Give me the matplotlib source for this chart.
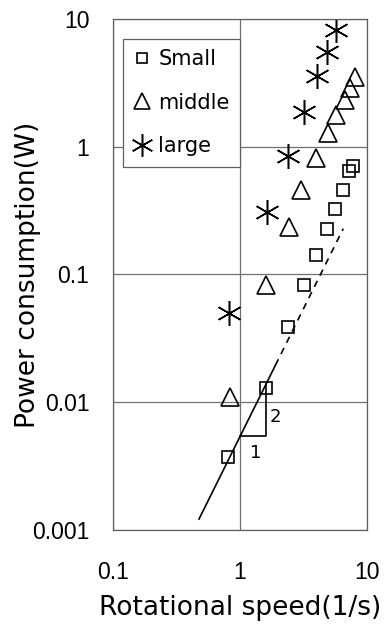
import numpy as np
import matplotlib
matplotlib.use('Agg')
from matplotlib import pyplot as plt

plt.rcParams['font.family'] = ['DejaVu Sans']

small_x = [0.80, 1.60, 2.39, 3.19, 3.97, 4.84, 5.60, 6.47, 7.21, 7.76]
small_y = [0.0037, 0.013, 0.039, 0.083, 0.143, 0.228, 0.327, 0.46, 0.64, 0.71]

middle_x = [0.83, 1.60, 2.43, 3.02, 3.97, 4.93, 5.70, 6.71, 7.35, 8.05]
middle_y = [0.0109, 0.082, 0.237, 0.46, 0.82, 1.29, 1.78, 2.33, 2.90, 3.53]

large_x = [0.82, 1.63, 2.39, 3.19, 4.04, 4.84, 5.70]
large_y = [0.050, 0.31, 0.85, 1.85, 3.59, 5.54, 8.24]

# P ~ N^2 guide
coef = 0.0054
solid_x = [0.475, 1.9]
dash_x = [1.9, 6.5]
tri_x = [1.0, 1.6]

fig = plt.figure(figsize=(3.9, 6.28), dpi=100)
ax = fig.add_axes([0.290, 0.156, 0.651, 0.814])

ax.plot(solid_x, [coef * v**2 for v in solid_x], 'k-', lw=1.2)
ax.plot(dash_x, [coef * v**2 for v in dash_x], 'k-', lw=1.2, dashes=(4, 3.5))
ax.plot([tri_x[0], tri_x[1], tri_x[1]],
        [coef * tri_x[0]**2, coef * tri_x[0]**2, coef * tri_x[1]**2], 'k-', lw=1.2)
ax.text(1.34, 0.0040, '1', fontsize=13, ha='center', va='center')
ax.text(1.89, 0.0077, '2', fontsize=13, ha='center', va='center')

ax.plot(small_x, small_y, 's', ms=8.5, mfc='none', mec='k', mew=1.2, ls='none', label='Small')
ax.plot(middle_x, middle_y, '^', ms=12.5, mfc='none', mec='k', mew=1.2, ls='none', label='middle')
ax.plot(large_x, large_y, marker=(6, 2, 0), ms=18, mec='k', mew=1.1, ls='none', label='large')

ax.set_xscale('log')
ax.set_yscale('log')
ax.set_xlim(0.1, 10)
ax.set_ylim(0.001, 10)
ax.set_xticks([0.1, 1, 10])
ax.set_xticklabels(['0.1', '1', '10'])
ax.set_yticks([0.001, 0.01, 0.1, 1, 10])
ax.set_yticklabels(['0.001', '0.01', '0.1', '1', '10'])
ax.minorticks_off()
ax.tick_params(length=0, labelsize=16.5)
ax.tick_params(axis='x', pad=22)
ax.tick_params(axis='y', pad=17)
for lab in ax.get_xticklabels() + ax.get_yticklabels():
    lab.set_family(['Liberation Sans', 'DejaVu Sans'])
ax.grid(True, color='#707070', lw=0.9)
for s in ax.spines.values():
    s.set_color('#606060')
    s.set_linewidth(0.9)

ax.set_xlabel('Rotational speed(1/s)', fontsize=19, labelpad=8)
ax.set_ylabel('Power consumption(W)', fontsize=19, va='center')
ax.yaxis.set_label_coords(-0.335, 0.5)

leg = ax.legend(loc='upper left', bbox_to_anchor=(0.039, 0.961), fontsize=15,
                frameon=True, fancybox=False, framealpha=1, edgecolor='#606060',
                handlelength=0.8, handletextpad=0.4, labelspacing=1.13,
                borderpad=0.5, markerscale=0.9, borderaxespad=0)
leg.get_frame().set_linewidth(0.9)

fig.savefig('out.png', dpi=100)
